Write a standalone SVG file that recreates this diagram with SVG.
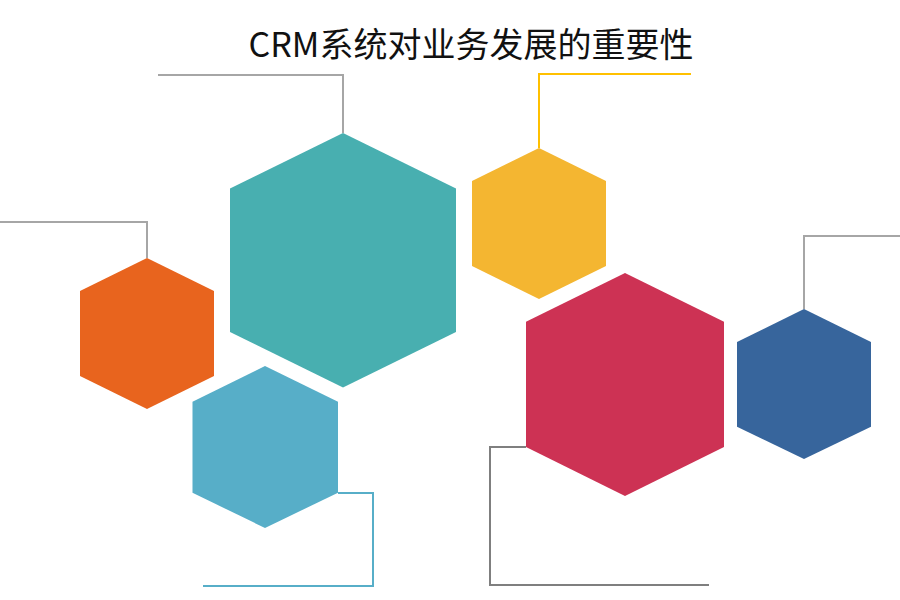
<svg xmlns="http://www.w3.org/2000/svg" width="900" height="600" viewBox="0 0 900 600">
<style>
.conn{fill:none;stroke-width:2}
.title{font-family:"Noto Sans CJK SC","Noto Sans",sans-serif;font-size:34px;fill:#111111;font-weight:400}
</style>
<rect width="900" height="600" fill="#ffffff"/>
<text class="title" x="471" y="57" text-anchor="middle">CRM系统对业务发展的重要性</text>
<g id="connectors">
<polyline class="conn" stroke="#A6A6A6" points="158,75 343,75 343,133"/>
<polyline class="conn" stroke="#FFC000" points="691,74 539,74 539,148"/>
<polyline class="conn" stroke="#A6A6A6" points="0,222 147,222 147,258"/>
<polyline class="conn" stroke="#57AEC8" points="338,493 373,493 373,586 203,586"/>
<polyline class="conn" stroke="#7F7F7F" points="526,447 490,447 490,585 709,585"/>
<polyline class="conn" stroke="#A6A6A6" points="804,309 804,236 900,236"/>
</g>
<g id="hex-teal"><polygon fill="#48AFB0" points="343,133 456,188.6 456,332 343,387.5 230,332 230,188.6"/></g>
<g id="hex-yellow"><polygon fill="#F4B631" points="539,148 606,181 606,266 539,299 472,266 472,181"/></g>
<g id="hex-orange"><polygon fill="#E8641E" points="147,258 214,291 214,376 147,409 80,376 80,291"/></g>
<g id="hex-lightblue"><polygon fill="#57AEC8" points="265,366 338,401.7 338,492.7 265,528 192.5,492.7 192.5,401.7"/></g>
<g id="hex-red"><polygon fill="#CD3254" points="625,273 724,321.7 724,447 625,496 526,447 526,321.7"/></g>
<g id="hex-blue"><polygon fill="#37659C" points="804,309 871,342 871,426.7 804,459 737,426.7 737,342"/></g>
</svg>
